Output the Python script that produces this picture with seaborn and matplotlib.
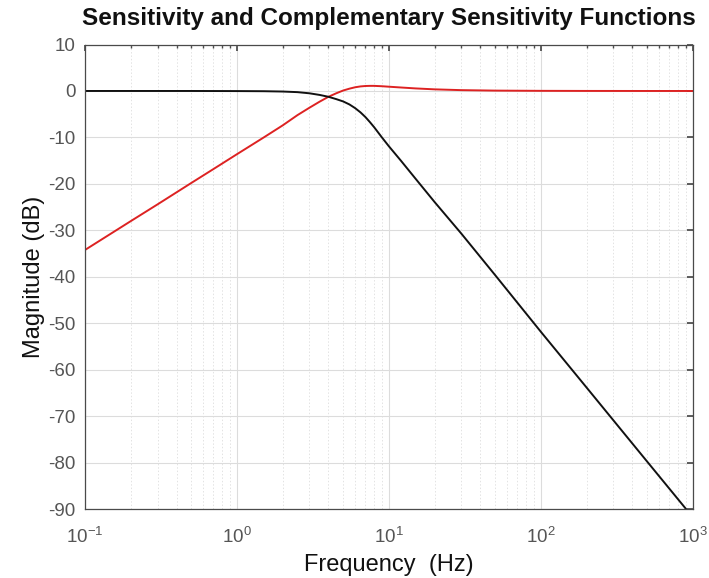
import numpy as np
import pandas as pd
import matplotlib
matplotlib.use("Agg")
import matplotlib.pyplot as plt
import seaborn as sns
from matplotlib.ticker import LogLocator, FixedLocator, FuncFormatter

# Frequency grid (Hz) shared by both curves
freq_hz = [0.1, 0.2, 0.3, 0.5, 0.7, 1.0, 1.5, 2.0, 2.5, 3.0, 3.5, 4.0, 4.5, 5.0,
           5.5, 6.0, 6.5, 7.0, 7.5, 8.0, 9.0, 10.0, 12.0, 15.0, 20.0, 30.0,
           50.0, 100.0, 200.0, 500.0, 1000.0]

# Sensitivity S (dB)
sens_db = [-34.2, -28.0, -24.4, -19.8, -16.8, -13.6, -10.0, -7.4, -5.2, -3.6,
           -2.3, -1.25, -0.5, 0.1, 0.5, 0.8, 0.98, 1.07, 1.1, 1.1, 1.02, 0.92,
           0.75, 0.55, 0.35, 0.18, 0.08, 0.03, 0.01, 0.0, 0.0]

# Complementary sensitivity T (dB)
comp_db = [0.0, 0.0, 0.0, 0.0, -0.01, -0.02, -0.05, -0.12, -0.25, -0.5,
           -0.85, -1.25, -1.75, -2.25, -2.9, -3.7, -4.6, -5.6, -6.7, -7.8,
           -10.0, -11.9, -15.0, -18.9, -23.9, -30.7, -39.6, -51.8, -63.8,
           -79.7, -91.7]

y_ticks = list(range(-90, 11, 10))
x_ticks = [0.1, 1, 10, 100, 1000]

df = pd.DataFrame({
    "Frequency": freq_hz * 2,
    "Magnitude": sens_db + comp_db,
    "Curve": ["S"] * len(freq_hz) + ["T"] * len(freq_hz),
})

sns.set_theme(style="white")
plt.rcParams["font.family"] = ["Liberation Sans", "DejaVu Sans"]
plt.rcParams["axes.unicode_minus"] = False
plt.rcParams["mathtext.fontset"] = "custom"
plt.rcParams["mathtext.rm"] = "Liberation Sans"
plt.rcParams["mathtext.it"] = "Liberation Sans"
plt.rcParams["mathtext.default"] = "regular"

fig = plt.figure(figsize=(7.09, 5.78), dpi=100)
ax = fig.add_axes([0.12, 0.119, 0.857, 0.804])

sns.lineplot(data=df, x="Frequency", y="Magnitude", hue="Curve",
             palette={"S": "#dd2222", "T": "#111111"}, linewidth=1.4,
             legend=False, ax=ax, sort=False, estimator=None)

ax.set_xscale("log")
ax.set_xlim(0.1, 1000)
ax.set_ylim(-90, 10)

ax.xaxis.set_major_locator(FixedLocator(x_ticks))
ax.xaxis.set_minor_locator(LogLocator(base=10, subs=np.arange(2, 10)))
ax.xaxis.set_major_formatter(FuncFormatter(
    lambda v, p: r"$10^{%d}$" % int(round(np.log10(v)))))
ax.yaxis.set_major_locator(FixedLocator(y_ticks))

ax.grid(True, which="major", color="#dcdcdc", linewidth=0.8, linestyle="-")
ax.grid(True, which="minor", axis="x", color="#e3e3e3", linewidth=0.7,
        linestyle=(0, (1.5, 2.0)))
ax.set_axisbelow(True)

for s in ax.spines.values():
    s.set_color("#4a4a4a")
    s.set_linewidth(0.9)

ax.tick_params(axis="both", which="major", direction="in", length=4,
               color="#4a4a4a", labelcolor="#555555", labelsize=13.5,
               top=True, right=True)
ax.tick_params(axis="y", which="major", pad=7)
ax.tick_params(axis="x", which="major", pad=13)
ax.tick_params(axis="x", which="minor", direction="in", length=2.5,
               color="#4a4a4a", top=True)

ax.set_xlabel("Frequency  (Hz)", fontsize=17, color="#111111", labelpad=5)
ax.set_ylabel("Magnitude (dB)", fontsize=17, color="#111111", labelpad=2)
ax.set_title("Sensitivity and Complementary Sensitivity Functions",
             fontsize=17.5, fontweight="bold", color="#111111", pad=14)

fig.savefig("out.png", dpi=100)
